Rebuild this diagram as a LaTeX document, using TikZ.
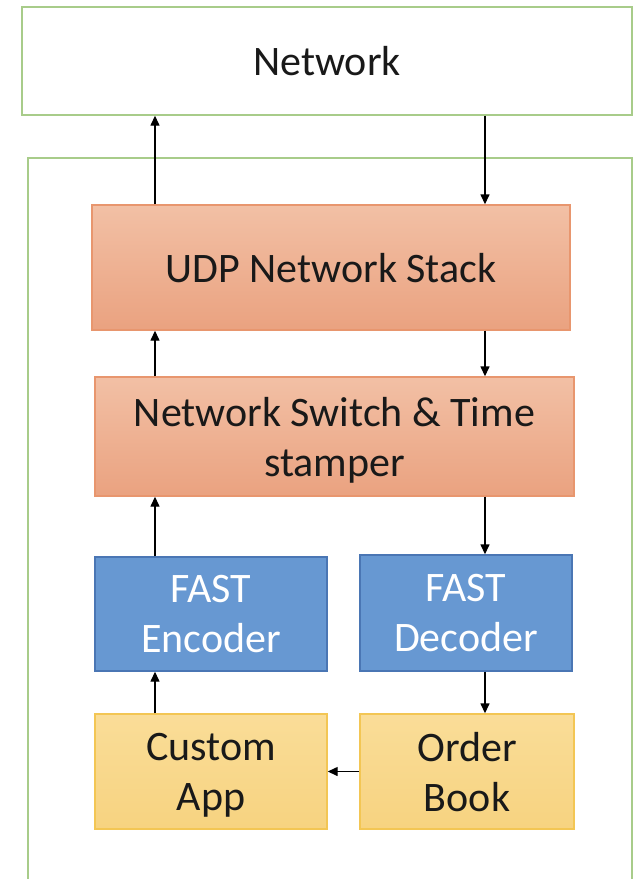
\documentclass[tikz,border=0pt]{standalone}
\usepackage{fontspec}
\setmainfont{Carlito}
\usepackage{tikz}
\usetikzlibrary{arrows.meta,positioning,calc}
\definecolor{netgreen}{RGB}{168,204,138}
\definecolor{stacktop}{RGB}{242,192,165}
\definecolor{stackbot}{RGB}{234,162,128}
\definecolor{stackline}{RGB}{232,150,110}
\definecolor{codecblue}{RGB}{103,152,210}
\definecolor{codecline}{RGB}{74,118,180}
\definecolor{apptop}{RGB}{250,221,152}
\definecolor{appbot}{RGB}{247,211,128}
\definecolor{appline}{RGB}{243,198,84}
\tikzset{
  blk/.style={rectangle, line width=1.4pt, inner sep=0pt, align=center, text depth=0pt, text=black!90, font=\fontsize{42}{50}\selectfont},
  netbox/.style={blk, draw=netgreen, fill=white},
  stackbox/.style={blk, draw=stackline, top color=stacktop, bottom color=stackbot},
  codecbox/.style={blk, draw=codecline, fill=codecblue, text=white},
  appbox/.style={blk, draw=appline, top color=apptop, bottom color=appbot},
  flow/.style={-{Triangle[length=10pt,width=9pt]}, line width=1.4pt, black}
}
\begin{document}
\begin{tikzpicture}[x=1pt, y=-1pt]
\useasboundingbox (0,0) rectangle (634,879);
% Outside world and host frame
\node[netbox, minimum width=610pt, minimum height=108pt] (net) at (327,61) {Network};
\node[netbox, minimum width=604pt, minimum height=737pt] (host) at (330,526.5) {};
% Stack
\node[stackbox, minimum width=478pt, minimum height=125pt] (udp) at (331,267.5) {UDP Network Stack};
\node[stackbox, minimum width=479pt, minimum height=119pt] (sw) at (334.5,436.5) {Network Switch \& Time\\stamper};
% Codecs
\node[codecbox, minimum width=232pt, minimum height=114pt] (enc) at (211,614) {FAST\\Encoder};
\node[codecbox, minimum width=212pt, minimum height=116pt] (dec) at (466,613) {FAST\\Decoder};
% Applications
\node[appbox, minimum width=232pt, minimum height=115pt] (app) at (211,771.5) {Custom\\App};
\node[appbox, minimum width=214pt, minimum height=115pt] (book) at (467,771.5) {Order\\Book};
% Columns for the two paths
\coordinate (tx) at (155,0);
\coordinate (rx) at (485,0);
% Outbound path
\draw[flow] (app.north -| tx)--(enc.south -| tx);
\draw[flow] (enc.north -| tx)--(sw.south -| tx);
\draw[flow] (sw.north -| tx)--(udp.south -| tx);
\draw[flow] (udp.north -| tx)--(net.south -| tx);
% Inbound path
\draw[flow] (net.south -| rx)--(udp.north -| rx);
\draw[flow] (udp.south -| rx)--(sw.north -| rx);
\draw[flow] (sw.south -| rx)--(dec.north -| rx);
\draw[flow] (dec.south -| rx)--(book.north -| rx);
\draw[flow] (book.west)--(app.east);
\end{tikzpicture}
\end{document}
